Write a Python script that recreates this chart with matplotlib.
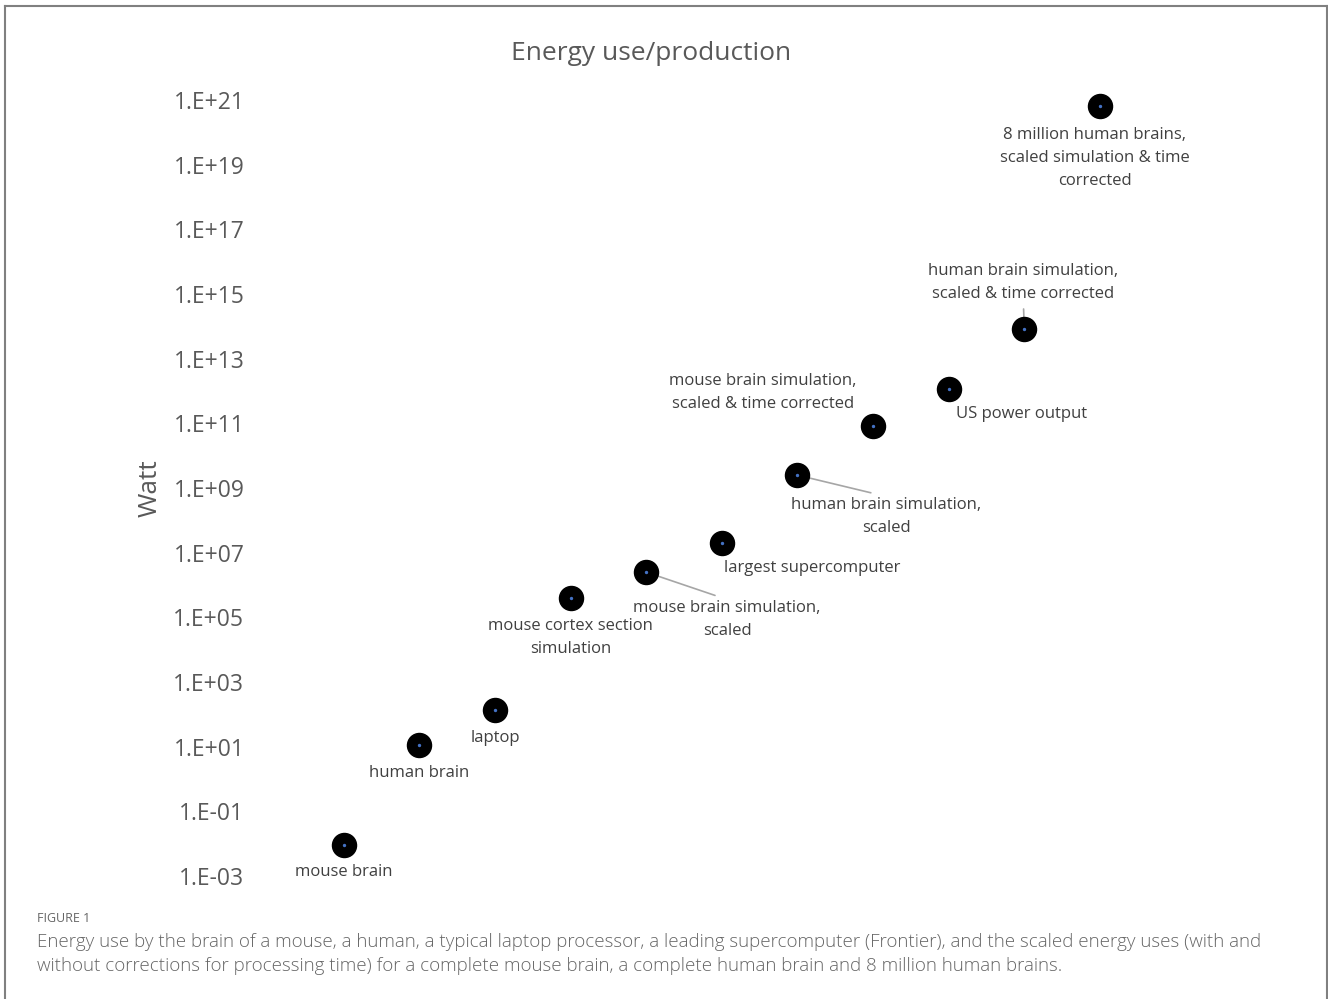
import numpy as np
import matplotlib.pyplot as plt
from matplotlib.ticker import FixedLocator, FuncFormatter
from matplotlib.lines import Line2D

plt.rcParams['font.family'] = ['Open Sans', 'DejaVu Sans']

# data
kategorie = ['mouse brain', 'human brain', 'laptop', 'mouse cortex section\nsimulation',
             'mouse brain simulation,\nscaled', 'largest supercomputer',
             'human brain simulation,\nscaled', 'mouse brain simulation,\nscaled & time corrected',
             'US power output', 'human brain simulation,\nscaled & time corrected',
             '8 million human brains,\nscaled simulation & time\ncorrected']
pozycja = [1, 2, 3, 4, 5, 6, 7, 8, 9, 10, 11]
wat = [9e-3, 11, 135, 4e5, 2.5e6, 2e7, 2.5e9, 8e10, 1.15e12, 8e13, 6.5e20]
yticki = [1e-3, 1e-1, 1e1, 1e3, 1e5, 1e7, 1e9, 1e11, 1e13, 1e15, 1e17, 1e19, 1e21]

# label offsets in pixels (dx, dy) and leader line anchor on the text (None = no line)
przesuniecie = [(0, -27), (0, -28), (0, -28), (0, -40), (81, -47), (90, -25),
                (89, -41), (-110, 34), (73, -25), (-1, 47), (-5, -52)]
linia = [None, None, None, None, (0.5, 1.0), None, (0.5, 1.0), None, None, (0.5, 0.0), None]

W, H = 1328, 999
fig = plt.figure(figsize=(W / 100, H / 100), dpi=100)
ax = fig.add_axes([268 / W, (H - 876) / H, (1175.6 - 268) / W, (876 - 100) / H])
ax.set_yscale('log')
ax.set_ylim(1e-3, 1e21)
ax.set_xlim(0, 12)
for s in ax.spines.values():
    s.set_visible(False)
ax.set_xticks([])
ax.yaxis.set_major_locator(FixedLocator(yticki))
ax.yaxis.set_minor_locator(FixedLocator([]))
ax.yaxis.set_major_formatter(FuncFormatter(lambda v, p: '1.E%+03d' % int(round(np.log10(v)))))
ax.tick_params(axis='y', length=0, pad=17, labelsize=16.5, labelcolor='#595959')

szary = '#404040'
for i in range(len(pozycja)):
    dx, dy = przesuniecie[i]
    props = None
    if linia[i] is not None:
        props = dict(arrowstyle='-', color='#a6a6a6', lw=1.2, shrinkA=3, shrinkB=0,
                     relpos=linia[i])
    ax.annotate(kategorie[i], xy=(pozycja[i], wat[i]), xytext=(dx * 0.72, dy * 0.72),
                textcoords='offset points', ha='center', va='center', fontsize=12,
                color=szary, linespacing=1.6, arrowprops=props, zorder=1,
                annotation_clip=False)

ax.scatter(pozycja, wat, s=300, color='black', zorder=3, clip_on=False)
ax.scatter(pozycja, wat, s=2, color='#4472c4', zorder=4, clip_on=False)

fig.text(651 / W, 1 - 53 / H, 'Energy use/production', ha='center', va='center',
         fontsize=19, color='#595959')
fig.text(150 / W, 1 - 488 / H, 'Watt', ha='center', va='center', rotation=90,
         fontsize=19, color='#595959')

fig.text(37 / W, 1 - 918 / H, 'FIGURE 1', ha='left', va='center', fontsize=9, color='#666666')
fig.text(37 / W, 1 - 954 / H,
         'Energy use by the brain of a mouse, a human, a typical laptop processor, a leading supercomputer (Frontier), and the scaled energy uses (with and\n'
         'without corrections for processing time) for a complete mouse brain, a complete human brain and 8 million human brains.',
         ha='left', va='center', fontsize=13.5, color='#666666', linespacing=1.4, fontweight='light')

# ramka
fig.add_artist(Line2D([4.5 / W, 4.5 / W], [0, 1 - 5.5 / H], color='#808080', lw=1.5))
fig.add_artist(Line2D([4.5 / W, 1326.5 / W], [1 - 5.5 / H, 1 - 5.5 / H], color='#808080', lw=1.5))
fig.add_artist(Line2D([1326.5 / W, 1326.5 / W], [1 - 5.5 / H, 0], color='#808080', lw=1.5))

fig.savefig('out.png', dpi=100)
